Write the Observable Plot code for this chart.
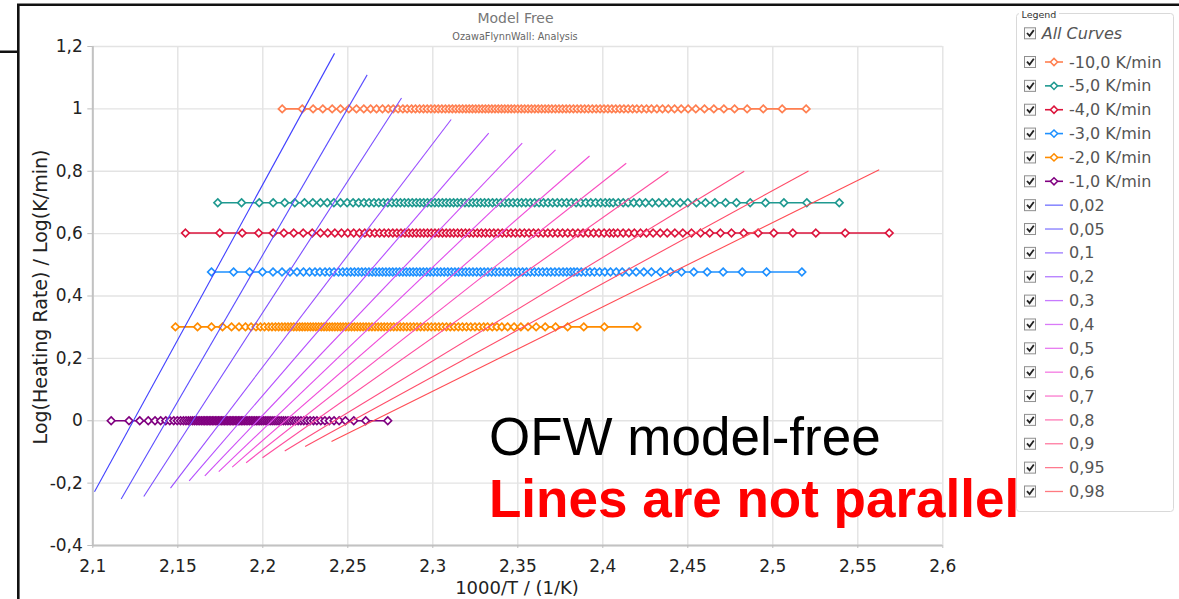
<!DOCTYPE html>
<html>
<head>
<meta charset="utf-8">
<script src="https://cdn.jsdelivr.net/npm/d3@7"></script>
<script src="https://cdn.jsdelivr.net/npm/@observablehq/plot@0.6"></script>
<style>
  html, body { margin: 0; padding: 0; background: #fff; overflow: hidden; }
  #chart { position: relative; width: 1179px; height: 599px; }
</style>
</head>
<body>
<div id="chart"></div>
<script>
// ---- axis ticks ----
const xTicks = [2.1, 2.15, 2.2, 2.25, 2.3, 2.35, 2.4, 2.45, 2.5, 2.55, 2.6];
const yTicks = [-0.4, -0.2, 0, 0.2, 0.4, 0.6, 0.8, 1, 1.2];

// ---- heating-rate curves: log10(|rate|) and 1000/T at each conversion step ----
const rateNames = ["-10,0 K/min", "-5,0 K/min", "-4,0 K/min", "-3,0 K/min", "-2,0 K/min", "-1,0 K/min"];
const rateLog = [1, 0.699, 0.602, 0.477, 0.301, 0];
const rateColors = ["#ff7f50", "#1f9990", "#dc143c", "#1e90ff", "#ff8c00", "#800080"];

const invT10 = [2.2114, 2.2232, 2.2296, 2.2353, 2.2408, 2.2457, 2.2506, 2.2551, 2.2594, 2.2634, 2.2669, 2.2704, 2.2738, 2.2767, 2.2796, 2.2824, 2.2849, 2.2875, 2.2898, 2.2922,
  2.2945, 2.2967, 2.2989, 2.3011, 2.3032, 2.3053, 2.3074, 2.3095, 2.3115, 2.3135, 2.3155, 2.3175, 2.3195, 2.3214, 2.3233, 2.3252, 2.3271, 2.3290, 2.3309, 2.3328, 2.3347, 2.3366, 2.3385, 2.3404, 2.3423, 2.3442, 2.3461, 2.3480, 2.3500, 2.3520, 2.3540, 2.3560, 2.3580, 2.3600, 2.3620, 2.3640, 2.3660, 2.3680, 2.3700, 2.3721, 2.3742, 2.3763, 2.3784, 2.3805, 2.3827, 2.3849, 2.3871, 2.3893, 2.3915, 2.3938, 2.3961, 2.3984, 2.4007, 2.4030,
  2.4053, 2.4076, 2.4100, 2.4124, 2.4149, 2.4175, 2.4200, 2.4228, 2.4257, 2.4286, 2.4318, 2.4351, 2.4385, 2.4422, 2.4461, 2.4502, 2.4547, 2.4598, 2.4653, 2.4712, 2.4775, 2.4849, 2.4944, 2.5055, 2.5196];

const invT5 = [2.1735, 2.1875, 2.1979, 2.2061, 2.2129, 2.2188, 2.2245, 2.2294, 2.2339, 2.2379, 2.2418, 2.2457, 2.2496,
  2.2531, 2.2564, 2.2595, 2.2625, 2.2654, 2.2682, 2.2709, 2.2735, 2.2760, 2.2785, 2.2809, 2.2833, 2.2856, 2.2879, 2.2902, 2.2924, 2.2946, 2.2968, 2.2990, 2.3012, 2.3034, 2.3056, 2.3078, 2.3100, 2.3122, 2.3144, 2.3166, 2.3189, 2.3212, 2.3235, 2.3258, 2.3281, 2.3304, 2.3327, 2.3351, 2.3375, 2.3399, 2.3423, 2.3447, 2.3472, 2.3497, 2.3522, 2.3547, 2.3573, 2.3599, 2.3625, 2.3651, 2.3678, 2.3705, 2.3732, 2.3759, 2.3787, 2.3815, 2.3843, 2.3871, 2.3900, 2.3929, 2.3958, 2.3987, 2.4014, 2.4039,
  2.4061, 2.4091, 2.4120, 2.4149, 2.4182, 2.4216, 2.4251, 2.4291, 2.4329, 2.4371, 2.4412, 2.4455, 2.4500, 2.4551, 2.4604, 2.4659, 2.4722, 2.4786, 2.4867, 2.4957, 2.5065, 2.5200, 2.5391];

const invT4 = [2.1545, 2.1747, 2.1879, 2.1976, 2.2061, 2.2124, 2.2182, 2.2238, 2.2291, 2.2339, 2.2382, 2.2424, 2.2463, 2.2500, 2.2535, 2.2569, 2.2600,
  2.2630, 2.2659, 2.2687, 2.2714, 2.2740, 2.2765, 2.2789, 2.2813, 2.2836, 2.2859, 2.2881, 2.2903, 2.2925, 2.2947, 2.2969, 2.2991, 2.3013, 2.3035, 2.3057, 2.3079, 2.3101, 2.3123, 2.3146, 2.3169, 2.3192, 2.3215, 2.3238, 2.3262, 2.3286, 2.3310, 2.3334, 2.3359, 2.3384, 2.3409, 2.3434, 2.3460, 2.3486, 2.3512, 2.3539, 2.3566, 2.3593, 2.3621, 2.3649, 2.3677, 2.3706, 2.3735, 2.3764, 2.3794, 2.3824, 2.3854, 2.3884, 2.3915, 2.3946, 2.3977, 2.4008, 2.4039, 2.4063,
  2.4088, 2.4120, 2.4153, 2.4186, 2.4222, 2.4257, 2.4296, 2.4338, 2.4379, 2.4424, 2.4471, 2.4522, 2.4575, 2.4629, 2.4692, 2.4757, 2.4829, 2.4914, 2.5006, 2.5118, 2.5253, 2.5426, 2.5685];

const invT3 = [2.1698, 2.1828, 2.1922, 2.1998, 2.2060, 2.2113, 2.2160, 2.2201, 2.2239, 2.2275, 2.2307, 2.2336, 2.2366, 2.2392, 2.2419,
  2.2445, 2.2470, 2.2494, 2.2517, 2.2539, 2.2561, 2.2582, 2.2603, 2.2624, 2.2644, 2.2664, 2.2684, 2.2704, 2.2724, 2.2744, 2.2764, 2.2784, 2.2804, 2.2824, 2.2844, 2.2864, 2.2884, 2.2904, 2.2924, 2.2944, 2.2964, 2.2984, 2.3004, 2.3025, 2.3046, 2.3067, 2.3088, 2.3109, 2.3130, 2.3151, 2.3172, 2.3193, 2.3214, 2.3236, 2.3258, 2.3280, 2.3302, 2.3324, 2.3346, 2.3368, 2.3390, 2.3413, 2.3436, 2.3459, 2.3482, 2.3505, 2.3528, 2.3551, 2.3574, 2.3598, 2.3622, 2.3646, 2.3670, 2.3694, 2.3718, 2.3742, 2.3766, 2.3788, 2.3810, 2.3830,
  2.3849, 2.3873, 2.3898, 2.3924, 2.3951, 2.3981, 2.4012, 2.4045, 2.4079, 2.4114, 2.4155, 2.4196, 2.4241, 2.4286, 2.4339, 2.4398, 2.4463, 2.4535, 2.4614, 2.4708, 2.4820, 2.4963, 2.5171];

const invT2 = [2.1486, 2.1616, 2.1698, 2.1763, 2.1816, 2.1860, 2.1898, 2.1931, 2.1960, 2.1986, 2.2010, 2.2034, 2.2054,
  2.2074, 2.2093, 2.2112, 2.2130, 2.2148, 2.2165, 2.2182, 2.2199, 2.2216, 2.2232, 2.2248, 2.2264, 2.2280, 2.2296, 2.2312, 2.2328, 2.2344, 2.2360, 2.2376, 2.2392, 2.2408, 2.2424, 2.2440, 2.2456, 2.2472, 2.2488, 2.2505, 2.2522, 2.2539, 2.2556, 2.2573, 2.2590, 2.2607, 2.2624, 2.2642, 2.2660, 2.2678, 2.2696, 2.2714, 2.2732, 2.2751, 2.2770, 2.2789, 2.2808, 2.2827, 2.2847, 2.2867, 2.2887, 2.2907, 2.2928, 2.2949, 2.2970, 2.2991, 2.3013, 2.3035, 2.3057, 2.3080, 2.3103, 2.3126, 2.3150, 2.3174, 2.3198, 2.3223, 2.3248, 2.3273, 2.3299,
  2.3322, 2.3350, 2.3377, 2.3406, 2.3440, 2.3478, 2.3518, 2.3560, 2.3608, 2.3661, 2.3722, 2.3793, 2.3888, 2.4009, 2.4201];

const invT1 = [2.1108, 2.1213, 2.1276, 2.1326, 2.1366, 2.1399, 2.1429, 2.1453, 2.1476,
  2.1497, 2.1516, 2.1533, 2.1548, 2.1562, 2.1575, 2.1587, 2.1598, 2.1609, 2.1619, 2.1629, 2.1639, 2.1649, 2.1658, 2.1667, 2.1676, 2.1685, 2.1694, 2.1703, 2.1712, 2.1721, 2.1730, 2.1739, 2.1748, 2.1757, 2.1766, 2.1775, 2.1784, 2.1793, 2.1802, 2.1811, 2.1820, 2.1829, 2.1838, 2.1847, 2.1856, 2.1865, 2.1874, 2.1883, 2.1892, 2.1902, 2.1912, 2.1922, 2.1932, 2.1942, 2.1952, 2.1962, 2.1972, 2.1982, 2.1992, 2.2003, 2.2014, 2.2025, 2.2036, 2.2047, 2.2059, 2.2071, 2.2083, 2.2095, 2.2108, 2.2121, 2.2134, 2.2148, 2.2162, 2.2177, 2.2192, 2.2208, 2.2224, 2.2241, 2.2259, 2.2278, 2.2298,
  2.2318, 2.2341, 2.2365, 2.2391, 2.2419, 2.2449, 2.2486, 2.2535, 2.2605, 2.2735];

const rateInvT = [invT10, invT5, invT4, invT3, invT2, invT1];

// ---- isoconversional fit lines (conversion, end points in 1000/T and log rate) ----
const alphaNames = ["0,02", "0,05", "0,1", "0,2", "0,3", "0,4", "0,5", "0,6", "0,7", "0,8", "0,9", "0,95", "0,98"];
const alphaColors = ["#4040ff", "#5a4dff", "#7a4dff", "#9a4dff", "#b44dff", "#cc4df5", "#e04dec", "#f04dd8", "#fa4dbd", "#ff4d9e", "#ff4d80", "#ff4d68", "#ff4d55"];
const alphaX1 = [2.1010, 2.1167, 2.1300, 2.1457, 2.1567, 2.1659, 2.1741, 2.1820, 2.1902, 2.1998, 2.2129, 2.2249, 2.2404];
const alphaY1 = [-0.228, -0.251, -0.243, -0.216, -0.1925, -0.177, -0.163, -0.1485, -0.1347, -0.1187, -0.0972, -0.0824, -0.0664];
const alphaX2 = [2.2422, 2.2614, 2.2816, 2.3108, 2.3329, 2.3526, 2.3722, 2.3922, 2.4138, 2.4386, 2.4832, 2.5210, 2.5626];
const alphaY2 = [1.178, 1.109, 1.035, 0.966, 0.922, 0.890, 0.8685, 0.849, 0.8255, 0.800, 0.800, 0.801, 0.805];

// ---- tables for the marks ----
const points = rateNames.flatMap((name, i) =>
  rateInvT[i].map(x => ({series: name, x, y: rateLog[i], color: rateColors[i]})));
const fitLines = alphaNames.map((name, i) => ({
  name, x1: alphaX1[i], y1: alphaY1[i], x2: alphaX2[i], y2: alphaY2[i], color: alphaColors[i]
}));

const comma = d => String(d).replace(".", ",");
const W = 1179, H = 599;

const plot = Plot.plot({
  width: W,
  height: H,
  marginLeft: 92.3,
  marginRight: W - 942.3,
  marginTop: 46,
  marginBottom: 54,
  x: {domain: [2.1, 2.6]},
  y: {domain: [-0.4, 1.2]},
  color: {type: "identity"},
  style: {fontFamily: "DejaVu Sans", fontSize: "17px", color: "#222", background: "#fff", overflow: "visible"},
  marks: [
    Plot.gridX(xTicks, {stroke: "#e3e3e3", strokeOpacity: 1, strokeWidth: 1.4}),
    Plot.gridY(yTicks, {stroke: "#e3e3e3", strokeOpacity: 1, strokeWidth: 1.4}),
    Plot.ruleX([2.1], {stroke: "#c2c2c2", strokeWidth: 2}),
    Plot.ruleY([-0.4], {stroke: "#c2c2c2", strokeWidth: 2}),
    Plot.axisX(xTicks, {tickSize: 3, tickPadding: 11, tickFormat: comma, stroke: "#bdbdbd", fill: "#222", label: null}),
    Plot.axisY(yTicks, {tickSize: 5, tickPadding: 5, tickFormat: comma, stroke: "#bdbdbd", fill: "#222", label: null}),
    Plot.line(points, {x: "x", y: "y", z: "series", stroke: "color", strokeWidth: 1.6}),
    Plot.dot(points, {x: "x", y: "y", symbol: "diamond2", r: 3.4, fill: "white", stroke: "color", strokeWidth: 1.7}),
    Plot.link(fitLines, {x1: "x1", y1: "y1", x2: "x2", y2: "y2", stroke: "color", strokeWidth: 1.1})
  ]
});

document.getElementById("chart").appendChild(plot);

// ---- titles, axis names and the surrounding frame ----
const svg = d3.select(plot);
const deco = svg.append("g").attr("text-anchor", "start");

deco.append("text").attr("x", 515.5).attr("y", 23.3).attr("text-anchor", "middle")
  .attr("font-family", "DejaVu Sans").attr("font-size", 14).attr("fill", "#777").text("Model Free");
deco.append("text").attr("x", 515).attr("y", 40).attr("text-anchor", "middle")
  .attr("font-family", "DejaVu Sans").attr("font-size", 9.7).attr("fill", "#666").text("OzawaFlynnWall: Analysis");

deco.append("text").attr("transform", "translate(40,297) rotate(-90)").attr("dy", "0.35em")
  .attr("text-anchor", "middle").attr("font-family", "DejaVu Sans").attr("font-size", 19)
  .attr("fill", "#222").text("Log(Heating Rate) / Log(K/min)");
deco.append("text").attr("x", 517).attr("y", 594).attr("text-anchor", "middle")
  .attr("font-family", "DejaVu Sans").attr("font-size", 18).attr("fill", "#222").text("1000/T / (1/K)");

deco.append("path").attr("d", "M0,51.7H18.3M18.3,599V4.8H1179")
  .attr("fill", "none").attr("stroke", "#111").attr("stroke-width", 2.6);

// ---- legend panel ----
const lg = svg.append("g").attr("font-family", "DejaVu Sans").attr("text-anchor", "start");
lg.append("rect").attr("x", 1016.5).attr("y", 13.5).attr("width", 157).attr("height", 498).attr("rx", 3)
  .attr("fill", "#fff").attr("stroke", "#d9d9d9");
lg.append("rect").attr("x", 1019).attr("y", 8).attr("width", 40).attr("height", 12).attr("fill", "#fff");
lg.append("text").attr("x", 1021.5).attr("y", 17.5).attr("font-size", 9.5).attr("fill", "#333").text("Legend");

function checkbox(yc) {
  lg.append("rect").attr("x", 1024.5).attr("y", yc - 5.5).attr("width", 11).attr("height", 11)
    .attr("fill", "#fafafa").attr("stroke", "#8f8f8f");
  lg.append("path").attr("d", `M1027,${yc - 0.3}L1029.6,${yc + 2.6}L1033.8,${yc - 3.2}`)
    .attr("fill", "none").attr("stroke", "#222").attr("stroke-width", 1.8);
}

checkbox(33.3);
lg.append("text").attr("x", 1041.7).attr("y", 33.3).attr("dy", "0.35em").attr("font-size", 16)
  .attr("font-style", "italic").attr("fill", "#555").text("All Curves");

const legendItems = [
  ...rateNames.map((name, i) => ({name, color: rateColors[i], marker: true})),
  ...alphaNames.map((name, i) => ({name, color: alphaColors[i], marker: false}))
];
legendItems.forEach((item, i) => {
  const yc = 62 + i * 23.86;
  checkbox(yc);
  lg.append("line").attr("x1", 1045).attr("x2", 1063).attr("y1", yc).attr("y2", yc)
    .attr("stroke", item.color).attr("stroke-width", item.marker ? 1.6 : 1.3)
    .attr("stroke-opacity", item.marker ? 1 : 0.75);
  if (item.marker) {
    lg.append("path").attr("d", `M1054,${yc - 3.6}L1057.6,${yc}L1054,${yc + 3.6}L1050.4,${yc}Z`)
      .attr("fill", "#fff").attr("stroke", item.color).attr("stroke-width", 1.5);
  }
  lg.append("text").attr("x", 1069).attr("y", yc).attr("dy", "0.35em").attr("font-size", 16)
    .attr("fill", "#555").text(item.name);
});

// ---- notes written over the chart (and over the legend edge) ----
const notes = svg.append("g").attr("text-anchor", "start")
  .attr("font-family", "Liberation Sans, Arial, sans-serif").attr("font-size", 53);
notes.append("text").attr("x", 489).attr("y", 455).attr("fill", "#000").text("OFW model-free");
notes.append("text").attr("x", 489).attr("y", 517).attr("font-weight", "bold")
  .attr("fill", "#ff0000").text("Lines are not parallel");
</script>
</body>
</html>
